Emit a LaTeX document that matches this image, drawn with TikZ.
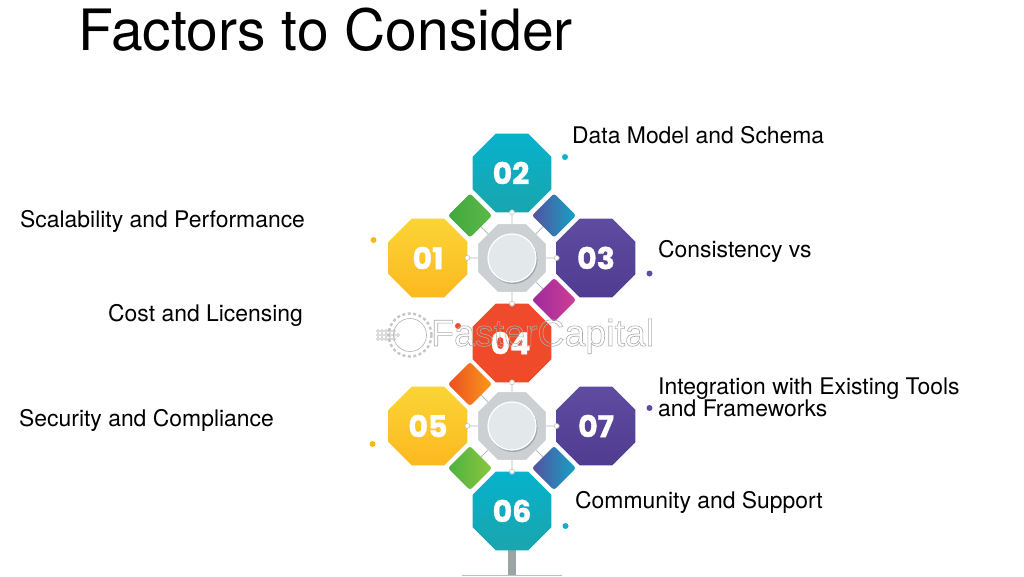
\documentclass[tikz,border=0pt]{standalone}
\usepackage{fontspec}
\setmainfont{TeX Gyre Heros}
\newfontfamily\numfont{Poppins}[UprightFont=* Bold,UprightFeatures={FakeBold=1.2}]
\newfontfamily\wmfont{Liberation Sans}
\usetikzlibrary{shapes.geometric,calc}
\definecolor{tealA}{HTML}{06B2CC}\definecolor{tealB}{HTML}{1AA5AE}
\definecolor{yelA}{HTML}{FBD437}\definecolor{yelB}{HTML}{FBB91F}
\definecolor{purA}{HTML}{5F4B9F}\definecolor{purB}{HTML}{4F3B8F}
\definecolor{redA}{HTML}{F04A2D}\definecolor{redB}{HTML}{EF4A28}
\definecolor{hubgray}{HTML}{CDD0D2}\definecolor{hubface}{HTML}{E3E8EA}
\definecolor{stemgray}{HTML}{9BA5A5}
\definecolor{gGreenA}{HTML}{5CB947}\definecolor{gGreenB}{HTML}{3FA83C}
\definecolor{gBlueA}{HTML}{55509F}\definecolor{gBlueB}{HTML}{14A3C4}
\definecolor{gMagA}{HTML}{9C2A9B}\definecolor{gMagB}{HTML}{CF3E96}
\definecolor{gOrA}{HTML}{EA4E20}\definecolor{gOrB}{HTML}{FA9A1B}
\definecolor{gLimeA}{HTML}{4CB23F}\definecolor{gLimeB}{HTML}{8CC63F}
\tikzset{
 octa/.style 2 args={regular polygon,regular polygon sides=8,minimum size=85pt,inner sep=0pt,outer sep=0pt,
   top color=#1,bottom color=#2,text=white,font=\numfont\fontsize{30}{30}\selectfont},
 gem/.style 2 args={diamond,minimum width=44pt,minimum height=44pt,inner sep=0pt,outer sep=0pt,rounded corners=2.5pt,
   left color=#1,right color=#2},
 hub/.style={regular polygon,regular polygon sides=8,minimum size=73pt,inner sep=0pt,outer sep=0pt,fill=hubgray},
 hubdisc/.style={circle,minimum size=48pt,inner sep=0pt,fill=hubface,draw=white,line width=1.2pt},
 hubshade/.style={circle,minimum size=49pt,inner sep=0pt,fill=hubgray!80!black},
 link/.style={draw=hubgray!90!black,line width=0.9pt},
 pin/.style={circle,minimum size=5pt,inner sep=0pt,fill=white,draw=hubgray!90!black,line width=0.5pt},
 spot/.style={circle,minimum size=6pt,inner sep=0pt,fill=#1},
 lab/.style={anchor=base west,inner sep=0pt,font=\fontsize{22.9}{22.9}\selectfont,text=black},
 headline/.style={anchor=base west,inner sep=0pt,font=\fontsize{57}{57}\selectfont,text=black},
 wmdot/.style={circle,minimum size=3pt,inner sep=0pt,draw=gray!55,line width=.4pt},
}
\begin{document}
\begin{tikzpicture}[x=1pt,y=-1pt]
\useasboundingbox (0,0) rectangle (1024,576);
\fill[white] (0,0) rectangle (1024,576);
% stem
\fill[stemgray] (508,548) rectangle (516,576);
\fill[stemgray!70] (462,574.5) rectangle (562,576);
% hubs
\node[hub] (h1) at (512,258) {};
\node[hub] (h2) at (512,426) {};
% octagons
\node[octa={tealA}{tealB}] (n2) at (512,173) {\hspace{-2pt}02};
\node[octa={yelA}{yelB}] (n1) at (428,258) {01};
\node[octa={purA}{purB}] (n3) at (596,258) {03};
\node[octa={redA}{redB}] (n4) at (512,343) {\hspace{-3pt}04};
\node[octa={yelA}{yelB}] (n5) at (428,426) {05};
\node[octa={purA}{purB}] (n7) at (596,426) {07};
\node[octa={tealA}{tealB}] (n6) at (512,511) {06};
% gems
\coordinate (g1) at (470,215.5);
\coordinate (g2) at (554,215.5);
\coordinate (g3) at (554,300);
\coordinate (g4) at (470,384);
\coordinate (g5) at (470,468);
\coordinate (g6) at (554,468);
% links
\draw[link] (h1) -- (n2.south);
\draw[link] (h1) -- (n1.east);
\draw[link] (h1) -- (n3.west);
\draw[link] (h1) -- (n4.north);
\draw[link] (h2) -- (n4.south);
\draw[link] (h2) -- (n5.east);
\draw[link] (h2) -- (n7.west);
\draw[link] (h2) -- (n6.north);
\draw[link] (h1) -- (g1);
\draw[link] (h1) -- (g2);
\draw[link] (h1) -- (g3);
\draw[link] (h2) -- (g4);
\draw[link] (h2) -- (g5);
\draw[link] (h2) -- (g6);
% on top of links
\node[hub] at (h1) {};
\node[hub] at (h2) {};
\node[hubshade] at (513,259.5) {};
\node[hubshade] at (513,427.5) {};
\node[hubdisc] (d1) at (h1) {};
\node[hubdisc] (d2) at (h2) {};
\node[gem={gGreenB}{gGreenA}] (m1) at (g1) {};
\node[gem={gBlueA}{gBlueB}] (m2) at (g2) {};
\node[gem={gMagA}{gMagB}] (m3) at (g3) {};
\node[gem={gOrA}{gOrB}] (m4) at (g4) {};
\node[gem={gLimeA}{gLimeB}] (m5) at (g5) {};
\node[gem={gBlueA}{gBlueB}] (m6) at (g6) {};
\node[pin] (p1) at (n2.south) {};
\node[pin] (p2) at (n1.east) {};
\node[pin] (p3) at (n3.west) {};
\node[pin] (p4) at (n4.north) {};
\node[pin] (p5) at (n4.south) {};
\node[pin] (p6) at (n5.east) {};
\node[pin] (p7) at (n7.west) {};
\node[pin] (p8) at (n6.north) {};
% spots
\node[spot=tealA] (s2) at (565,157) {};
\node[spot=yelB] (s1) at (373.5,240) {};
\node[spot=purA] (s3) at (649.5,273.5) {};
\node[spot=redA] (s4) at (458,326) {};
\node[spot=yelB] (s5) at (372.5,444) {};
\node[spot=purA] (s7) at (649.5,408) {};
\node[spot=tealA] (s6) at (565.5,526) {};
% watermark
\node[anchor=base west,inner sep=0pt,font=\wmfont\fontsize{37.5}{37.5}\selectfont] (wm) at (431,346) {\special{pdf:code q 1 Tr 0.6 w 0.68 G}FasterCapital\special{pdf:code 0 Tr Q}};
\node[circle,draw=gray!45,line width=2.4pt,dash pattern=on 3pt off 2.5pt,minimum size=43pt,inner sep=0pt] (gear) at (410,335) {};
\node[circle,draw=gray!55,line width=.7pt,minimum size=33pt,inner sep=0pt] (gearin) at (410,335) {};
\foreach \i/\c in {0/5,1/6,2/5}{
  \foreach \j in {1,...,\c}{
    \node[wmdot] at ({374+\j*4},{331+\i*4}) {};
  }
}
% text
\node[headline] (t) at (78,50) {Factors to Consider};
\node[lab] (l2) at (572,143) {Data Model and Schema};
\node[lab] (l1) at (20,227) {Scalability and Performance};
\node[lab] (l3) at (658,257) {Consistency vs};
\node[lab] (l4) at (108,321) {Cost and Licensing};
\node[lab] (l7a) at (658,394) {Integration with Existing Tools};
\node[lab] (l7b) at (658,416) {and Frameworks};
\node[lab] (l5) at (19,426) {Security and Compliance};
\node[lab] (l6) at (575,508) {Community and Support};
\end{tikzpicture}
\end{document}
